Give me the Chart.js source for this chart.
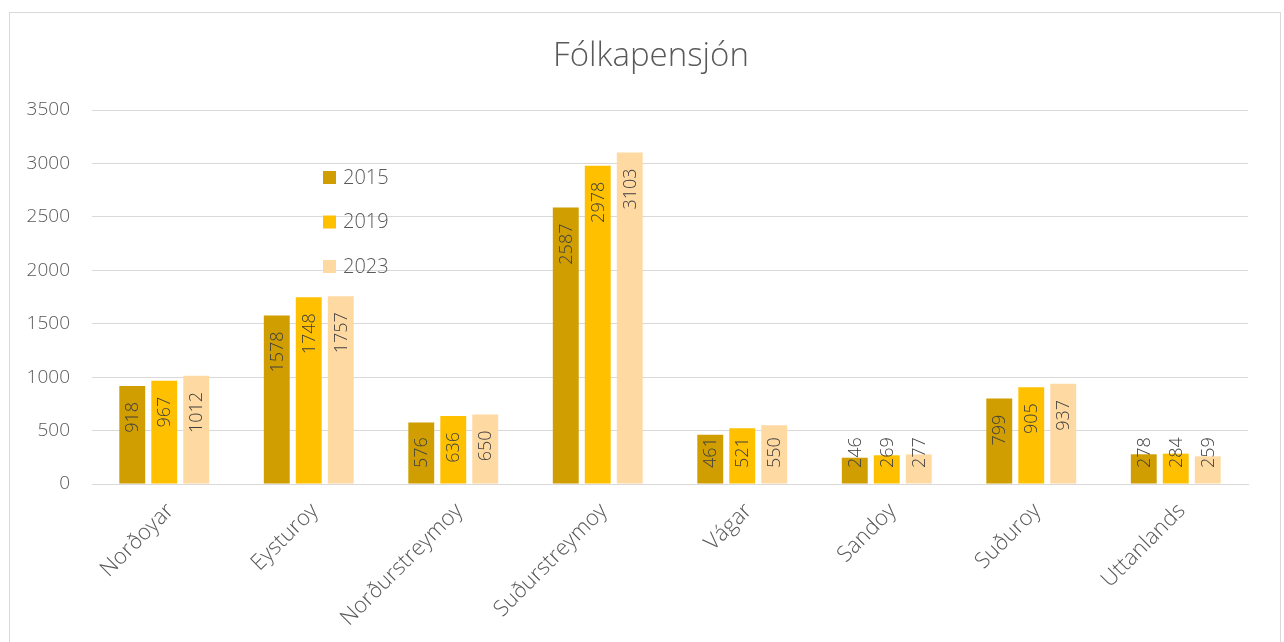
<!DOCTYPE html>
<html>
<head>
<meta charset="utf-8">
<script src="https://cdn.jsdelivr.net/npm/chart.js@4.4.0/dist/chart.umd.min.js"></script>
<style>
    html, body { margin: 0; padding: 0; background: #fff; }
    #wrap { position: relative; width: 1284px; height: 642px; }
    #frame { position: absolute; left: 9px; top: 12px; width: 1272px; height: 640px; border: 1px solid #d9d9d9; box-sizing: border-box; pointer-events: none; }
    canvas { position: absolute; left: 0; top: 0; }
</style>
</head>
<body>
<div id="wrap">
    <canvas id="chart" width="1284" height="642"></canvas>
    <div id="frame"></div>
</div>
<script>
var categories = ['Norðoyar', 'Eysturoy', 'Norðurstreymoy', 'Suðurstreymoy', 'Vágar', 'Sandoy', 'Suðuroy', 'Uttanlands'];
var years = ['2015', '2019', '2023'];
var values2015 = [918, 1578, 576, 2587, 461, 246, 799, 278];
var values2019 = [967, 1748, 636, 2978, 521, 269, 905, 284];
var values2023 = [1012, 1757, 650, 3103, 550, 277, 937, 259];
var colors = ['#D09E00', '#FFC000', '#FFD9A2'];
var chartTitle = 'Fólkapensjón';

var textColor = '#595959';
var fontName = "'Open Sans', 'Noto Sans', sans-serif";

// title centred on the whole frame, not on the canvas minus padding
var frameTitle = {
    id: 'frameTitle',
    afterDraw: function (chart) {
        var ctx = chart.ctx;
        ctx.save();
        ctx.font = '300 33px ' + fontName;
        ctx.fillStyle = textColor;
        ctx.textAlign = 'center';
        ctx.textBaseline = 'middle';
        ctx.fillText(chartTitle, 651, 57);
        ctx.restore();
    }
};

// value labels, turned up inside the top of each bar
var barLabels = {
    id: 'barLabels',
    afterDatasetsDraw: function (chart) {
        var ctx = chart.ctx;
        var axisY = chart.scales.y.getPixelForValue(0);
        ctx.save();
        ctx.font = '300 18px ' + fontName;
        ctx.fillStyle = '#404040';
        ctx.textBaseline = 'middle';
        chart.data.datasets.forEach(function (ds, i) {
            chart.getDatasetMeta(i).data.forEach(function (bar, j) {
                var txt = String(ds.data[j]);
                var w = ctx.measureText(txt).width;
                var top = bar.y + 16;
                if (top + w > axisY - 16) top = axisY - 16 - w;
                ctx.save();
                ctx.translate(bar.x + 1, top);
                ctx.rotate(-Math.PI / 2);
                ctx.textAlign = 'right';
                ctx.fillText(txt, 0, 0);
                ctx.restore();
            });
        });
        ctx.restore();
    }
};

// legend drawn inside the plot area
var innerLegend = {
    id: 'innerLegend',
    afterDraw: function (chart) {
        var ctx = chart.ctx;
        var a = chart.chartArea;
        ctx.save();
        ctx.font = '300 20px ' + fontName;
        ctx.textBaseline = 'middle';
        ctx.textAlign = 'left';
        chart.data.datasets.forEach(function (ds, i) {
            var y = a.top + 68 + i * 44.5;
            ctx.fillStyle = ds.backgroundColor;
            ctx.fillRect(a.left + 231, y - 7, 13, 13);
            ctx.fillStyle = textColor;
            ctx.fillText(ds.label, a.left + 251, y);
        });
        ctx.restore();
    }
};

var ctx = document.getElementById('chart');
window.myChart = new Chart(ctx, {
    type: 'bar',
    data: {
        labels: categories,
        datasets: [
            { label: years[0], data: values2015, backgroundColor: colors[0] },
            { label: years[1], data: values2019, backgroundColor: colors[1] },
            { label: years[2], data: values2023, backgroundColor: colors[2] }
        ]
    },
    options: {
        responsive: false,
        animation: false,
        layout: { padding: { left: 0, right: 36, top: 110, bottom: 0 } },
        datasets: {
            bar: { categoryPercentage: 0.664, barPercentage: 0.81 }
        },
        plugins: {
            legend: { display: false },
            tooltip: { enabled: false },
            title: { display: false }
        },
        scales: {
            x: {
                grid: { display: false, drawTicks: false },
                border: { color: '#d9d9d9', width: 1 },
                ticks: {
                    color: textColor,
                    font: { family: fontName, size: 22, weight: 300 },
                    minRotation: 45,
                    maxRotation: 45,
                    padding: 14,
                    labelOffset: 6
                },
                afterFit: function (scale) { scale.height = 158; }
            },
            y: {
                min: 0,
                max: 3500,
                grid: { color: '#d9d9d9', drawTicks: false },
                border: { display: false },
                ticks: {
                    stepSize: 500,
                    color: textColor,
                    font: { family: fontName, size: 19, weight: 300 },
                    padding: 22,
                    callback: function (v) { return String(v); }
                },
                afterFit: function (scale) { scale.width = 92; }
            }
        }
    },
    plugins: [barLabels, innerLegend, frameTitle]
});
</script>
</body>
</html>
